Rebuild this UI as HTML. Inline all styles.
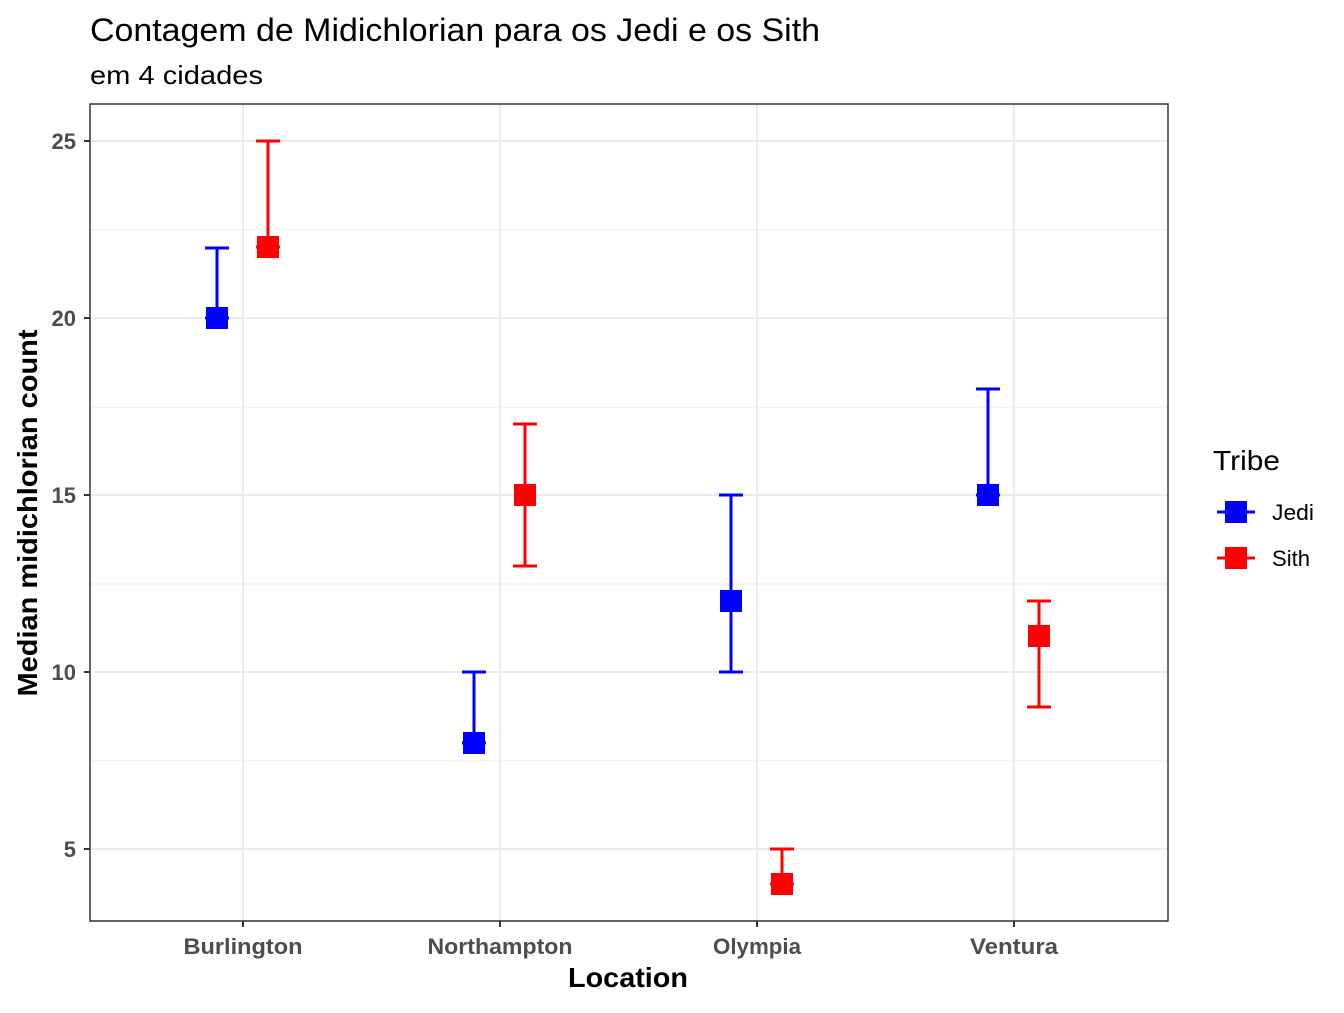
<!DOCTYPE html>
<html><head><style>body{margin:0;background:#fff}</style></head><body>
<svg width="1344" height="1008" xmlns="http://www.w3.org/2000/svg" font-family="Liberation Sans, Arial, sans-serif">
<rect width="1344" height="1008" fill="#fff"/>
<text x="90" y="41" font-size="32" fill="#000" textLength="730" lengthAdjust="spacingAndGlyphs">Contagem de Midichlorian para os Jedi e os Sith</text>
<text x="90" y="84" font-size="26" fill="#000" textLength="173" lengthAdjust="spacingAndGlyphs">em 4 cidades</text>
<g stroke="#ebebeb" stroke-width="1">
<line x1="90" x2="1168" y1="230" y2="230"/><line x1="90" x2="1168" y1="407" y2="407"/>
<line x1="90" x2="1168" y1="584" y2="584"/><line x1="90" x2="1168" y1="761" y2="761"/>
</g>
<g stroke="#ebebeb" stroke-width="2">
<line x1="90" x2="1168" y1="141" y2="141"/><line x1="90" x2="1168" y1="318" y2="318"/>
<line x1="90" x2="1168" y1="495" y2="495"/><line x1="90" x2="1168" y1="672" y2="672"/>
<line x1="90" x2="1168" y1="849" y2="849"/>
<line y1="104" y2="921" x1="243" x2="243"/><line y1="104" y2="921" x1="500" x2="500"/>
<line y1="104" y2="921" x1="757" x2="757"/><line y1="104" y2="921" x1="1014" x2="1014"/>
</g>
<g stroke-width="3" fill="none">
<path stroke="#0000ff" d="M217 318V248M205 248H229M205 318H229"/>
<path stroke="#ff0000" d="M268 247V141M256 141H280M256 247H280"/>
<path stroke="#0000ff" d="M474 743V672M462 672H486M462 743H486"/>
<path stroke="#ff0000" d="M525 566V424M513 424H537M513 566H537"/>
<path stroke="#0000ff" d="M731 672V495M719 495H743M719 672H743"/>
<path stroke="#ff0000" d="M782 884V849M770 849H794M770 884H794"/>
<path stroke="#0000ff" d="M988 495V389M976 389H1000M976 495H1000"/>
<path stroke="#ff0000" d="M1039 707V601M1027 601H1051M1027 707H1051"/>
</g>
<g fill="#0000ff">
<rect x="206" y="307" width="22" height="22"/><rect x="463" y="732" width="22" height="22"/>
<rect x="720" y="590" width="22" height="22"/><rect x="977" y="484" width="22" height="22"/>
</g>
<g fill="#ff0000">
<rect x="257" y="236" width="22" height="22"/><rect x="514" y="484" width="22" height="22"/>
<rect x="771" y="873" width="22" height="22"/><rect x="1028" y="625" width="22" height="22"/>
</g>
<rect x="90" y="104" width="1078" height="817" fill="none" stroke="#333" stroke-width="1.5"/>
<g stroke="#333" stroke-width="2">
<line x1="84" x2="90" y1="141" y2="141"/><line x1="84" x2="90" y1="318" y2="318"/>
<line x1="84" x2="90" y1="495" y2="495"/><line x1="84" x2="90" y1="672" y2="672"/>
<line x1="84" x2="90" y1="849" y2="849"/>
<line y1="921" y2="927" x1="243" x2="243"/><line y1="921" y2="927" x1="500" x2="500"/>
<line y1="921" y2="927" x1="757" x2="757"/><line y1="921" y2="927" x1="1014" x2="1014"/>
</g>
<g font-size="22" font-weight="bold" fill="#4d4d4d" text-anchor="end">
<text x="76" y="149">25</text><text x="76" y="326">20</text><text x="76" y="503">15</text>
<text x="76" y="680">10</text><text x="76" y="857">5</text>
</g>
<g font-size="22" font-weight="bold" fill="#4d4d4d" text-anchor="middle">
<text x="243" y="954" textLength="119" lengthAdjust="spacingAndGlyphs">Burlington</text>
<text x="500" y="954" textLength="145" lengthAdjust="spacingAndGlyphs">Northampton</text>
<text x="757" y="954" textLength="88" lengthAdjust="spacingAndGlyphs">Olympia</text>
<text x="1014" y="954" textLength="88" lengthAdjust="spacingAndGlyphs">Ventura</text>
</g>
<text x="628" y="987" font-size="28" font-weight="bold" text-anchor="middle" textLength="120" lengthAdjust="spacingAndGlyphs">Location</text>
<text transform="translate(37,513) rotate(-90)" font-size="28" font-weight="bold" text-anchor="middle" textLength="367" lengthAdjust="spacingAndGlyphs">Median midichlorian count</text>
<text x="1213" y="470" font-size="28" textLength="67" lengthAdjust="spacingAndGlyphs">Tribe</text>
<path d="M1217 512H1255" stroke="#0000ff" stroke-width="3"/><rect x="1225" y="501" width="22" height="22" fill="#0000ff"/>
<path d="M1217 558H1255" stroke="#ff0000" stroke-width="3"/><rect x="1225" y="547" width="22" height="22" fill="#ff0000"/>
<text x="1272" y="520" font-size="22" textLength="42" lengthAdjust="spacingAndGlyphs">Jedi</text>
<text x="1272" y="566" font-size="22" textLength="38" lengthAdjust="spacingAndGlyphs">Sith</text>
</svg>
</body></html>
